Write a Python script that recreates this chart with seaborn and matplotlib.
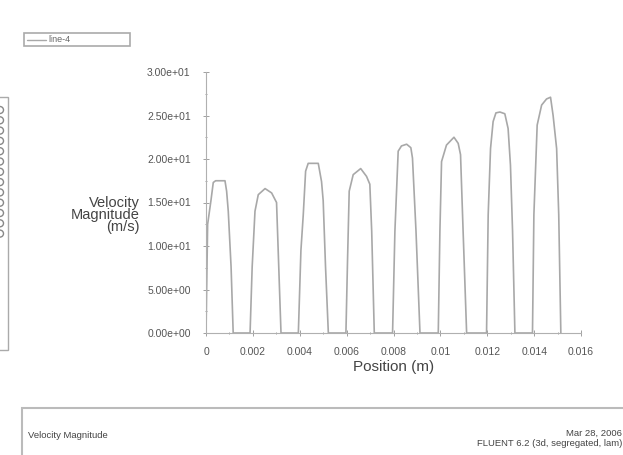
import seaborn as sns
import pandas as pd
import matplotlib.pyplot as plt
from matplotlib.ticker import MultipleLocator, FuncFormatter
from matplotlib.patches import Rectangle, Ellipse

# values (line-4), position in m, velocity in m/s
position = [
    0.0, 0.00007, 0.00021, 0.00031, 0.00041, 0.00081, 0.00088, 0.00095, 0.00107, 0.00116,
    0.00188, 0.00197, 0.00209, 0.00223, 0.00252, 0.0028, 0.00301, 0.00308, 0.0032,
    0.00394, 0.00405, 0.00415, 0.00425, 0.00436, 0.00479, 0.00493, 0.005, 0.0051, 0.00522,
    0.00597, 0.00604, 0.00611, 0.00628, 0.0066, 0.00685, 0.00699, 0.00707, 0.00718,
    0.00796, 0.00806, 0.0082, 0.00834, 0.00856, 0.00874, 0.00881, 0.00896, 0.00913,
    0.00991, 0.00998, 0.01005, 0.01026, 0.01058, 0.01076, 0.01086, 0.01097, 0.01112,
    0.01197, 0.01204, 0.01214, 0.01225, 0.01237, 0.01254, 0.01275, 0.01289, 0.01299,
    0.01308, 0.01318,
    0.01393, 0.01399, 0.01413, 0.01432, 0.01453, 0.0147, 0.01481, 0.01496, 0.01505, 0.01514,
]
velocity = [
    0.0, 12.5, 15.2, 17.3, 17.5, 17.5, 16.3, 14.0, 7.6, 0.0,
    0.0, 7.6, 14.0, 15.9, 16.6, 16.1, 15.0, 9.5, 0.0,
    0.0, 9.5, 13.6, 18.6, 19.5, 19.5, 17.4, 15.2, 7.6, 0.0,
    0.0, 8.5, 16.3, 18.2, 18.9, 18.0, 17.1, 11.7, 0.0,
    0.0, 11.7, 20.9, 21.5, 21.7, 21.3, 20.1, 11.7, 0.0,
    0.0, 11.7, 19.7, 21.6, 22.5, 21.8, 20.5, 11.7, 0.0,
    0.0, 13.6, 21.2, 24.3, 25.3, 25.4, 25.2, 23.5, 19.3,
    11.7, 0.0,
    0.0, 13.6, 23.9, 26.2, 26.9, 27.1, 25.0, 21.2, 13.6, 0.0,
]
x_ticks = [0, 0.002, 0.004, 0.006, 0.008, 0.01, 0.012, 0.014, 0.016]
x_tick_labels = ["0", "0.002", "0.004", "0.006", "0.008", "0.01", "0.012", "0.014", "0.016"]

df = pd.DataFrame({"Position (m)": position, "Velocity": velocity})

sns.set_theme(style="white")
plt.rcParams['font.family'] = ['Liberation Sans', 'DejaVu Sans']

fig = plt.figure(figsize=(6.23, 4.55), dpi=100)
ax = fig.add_axes([206 / 623, 1 - 333 / 455, 375 / 623, 261 / 455])

sns.lineplot(data=df, x="Position (m)", y="Velocity", estimator=None, sort=False,
             color="#a8a8a8", linewidth=1.2, ax=ax)

ax.set_xlim(0, 0.016)
ax.set_ylim(0, 30)
ax.set_xticks(x_ticks)
ax.set_xticklabels(x_tick_labels)
ax.xaxis.set_minor_locator(MultipleLocator(0.001))
ax.yaxis.set_major_locator(MultipleLocator(5))
ax.yaxis.set_minor_locator(MultipleLocator(2.5))
ax.yaxis.set_major_formatter(FuncFormatter(lambda v, p: f"{v:.2e}"))

for side in ["top", "right"]:
    ax.spines[side].set_visible(False)
for side in ["left", "bottom"]:
    ax.spines[side].set_color("#b0b0b0")
    ax.spines[side].set_linewidth(0.8)

ax.tick_params(which="major", direction="inout", length=4, width=0.6, color="#909090",
               labelsize=7.5, labelcolor="#555555")
ax.tick_params(axis="y", which="major", pad=9)
ax.tick_params(axis="x", which="major", pad=8)
ax.tick_params(which="minor", direction="inout", length=2, width=0.6, color="#909090")
ax.tick_params(axis="both", which="both", bottom=True, left=True)

ax.set_xlabel("Position (m)", fontsize=11, color="#444444", labelpad=2)
ax.set_ylabel("")
fig.text(140 / 623, 1 - 215 / 455, "Velocity\nMagnitude\n(m/s)", ha="right", va="center",
         fontsize=10.5, color="#444444", linespacing=0.85)

# legend box "line-4"
fig.patches.append(Rectangle((24 / 623, 1 - 46 / 455), 106 / 623, 13 / 455,
                             transform=fig.transFigure, fill=False,
                             edgecolor="#aaaaaa", linewidth=1.2))
fig.lines.append(plt.Line2D([27 / 623, 46 / 623], [1 - 39.5 / 455] * 2,
                            transform=fig.transFigure, color="#a8a8a8", linewidth=1))
fig.text(48 / 623, 1 - 39.5 / 455, "line-4", ha="left", va="center", fontsize=6.5,
         color="#666666")

# cut-off colour legend at the left edge
fig.patches.append(Rectangle((-10 / 623, 1 - 350 / 455), 18 / 623, 253 / 455,
                             transform=fig.transFigure, fill=False,
                             edgecolor="#aaaaaa", linewidth=1))
for i in range(13):
    yy = 1 - (110 + i * 10.3) / 455
    fig.patches.append(Ellipse((0 / 623, yy), 7 / 623, 7 / 455,
                               transform=fig.transFigure, fill=False,
                               edgecolor="#888888", linewidth=1))

# title box at the bottom
fig.patches.append(Rectangle((22 / 623, -10 / 455), 620 / 623, 57 / 455,
                             transform=fig.transFigure, fill=False,
                             edgecolor="#bbbbbb", linewidth=1.5))
fig.text(28 / 623, 1 - 435 / 455, "Velocity Magnitude", ha="left", va="center",
         fontsize=6.8, color="#444444")
fig.text(622 / 623, 1 - 433 / 455, "Mar 28, 2006", ha="right", va="center",
         fontsize=6.8, color="#444444")
fig.text(622 / 623, 1 - 443 / 455, "FLUENT 6.2 (3d, segregated, lam)", ha="right",
         va="center", fontsize=6.8, color="#444444")

fig.savefig("out.png", dpi=100, facecolor="white")
